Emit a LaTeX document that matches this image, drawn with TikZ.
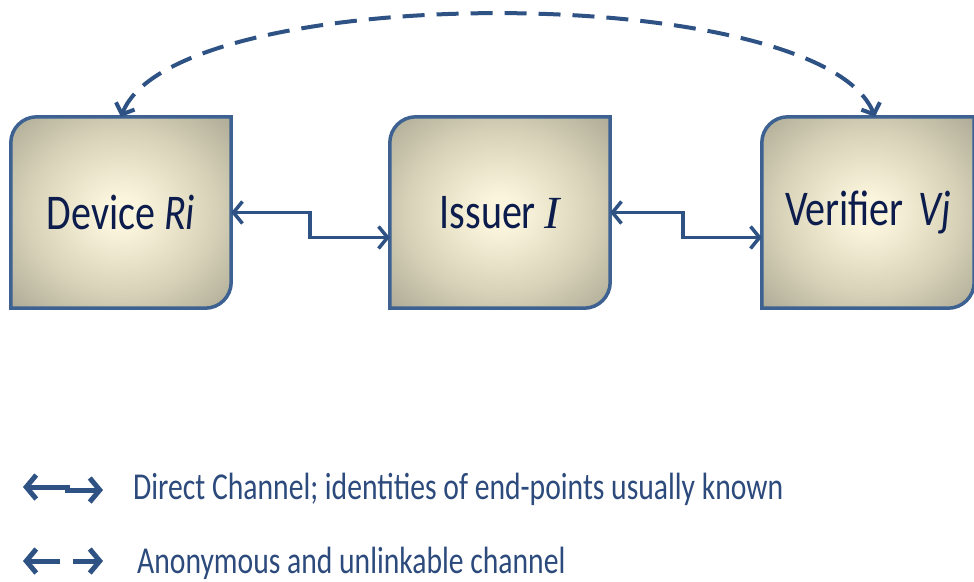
\documentclass[tikz,border=0pt]{standalone}
\usepackage{fontspec}
\setmainfont{Carlito}
\newfontfamily\boxfont[FakeStretch=0.80]{Carlito}
\newfontfamily\legfont[FakeStretch=0.78]{Carlito}
\newfontfamily\serifit{Liberation Serif}
\usetikzlibrary{arrows.meta}
\definecolor{creamc}{HTML}{FAF5DC}
\definecolor{midc}{HTML}{DAD5BA}
\definecolor{darkc}{HTML}{A6A390}
\definecolor{edgec}{HTML}{8C897A}
\definecolor{bordc}{HTML}{3D6190}
\definecolor{arrc}{HTML}{2E5284}
\definecolor{txtc}{HTML}{0C1C4C}
\definecolor{legc}{HTML}{2C4A7C}
\pgfdeclareradialshading{boxshade}{\pgfpoint{0bp}{0bp}}{color(0bp)=(creamc); color(4bp)=(creamc); color(20bp)=(midc); color(38bp)=(darkc); color(56bp)=(edgec); color(80bp)=(edgec)}
\pgfdeclarelayer{bg}
\pgfsetlayers{bg,main}
\newcommand{\entitybox}[1]{%
  \begin{pgfonlayer}{bg}
  \path[shade, shading=boxshade, draw=bordc, line width=3.5pt]
    (#1.south west) -- ([yshift=-26pt]#1.north west)
    arc[start angle=180, end angle=90, radius=26pt]
    -- (#1.north east) -- ([yshift=26pt]#1.south east)
    arc[start angle=0, end angle=-90, radius=26pt] -- cycle;
  \end{pgfonlayer}}
\tikzset{
  entity/.style={minimum height=191pt, inner sep=0pt, text=txtc,
    font=\boxfont\fontsize{50}{55}\selectfont},
  conn/.style={draw=arrc, line width=3.5pt,
    {Straight Barb[length=9pt,width=22pt]}-{Straight Barb[length=9pt,width=22pt]}},
  anon/.style={draw=arrc, line width=4pt, dash pattern=on 22pt off 12pt,
    {Straight Barb[length=9pt,width=20pt]}-{Straight Barb[length=9pt,width=20pt]}},
  legarrow/.style={draw=arrc, line width=5pt},
  legtext/.style={anchor=west, inner sep=0pt, text=legc,
    font=\legfont\fontsize{38}{42}\selectfont},
}
\begin{document}
\begin{tikzpicture}[x=1pt, y=-1pt]
\useasboundingbox (0,0) rectangle (974,581);
\node[entity, minimum width=220pt] (dev) at (121,212.5) {Device \textit{Ri}};
\node[entity, minimum width=220pt] (iss) at (500,212.5) {Issuer {\serifit\itshape\fontsize{46}{50}\selectfont I}};
\node[entity, minimum width=212pt] (ver) at (868,212.5) {Verifier\hspace{0.3em}\textit{Vj}};
\entitybox{dev}
\entitybox{iss}
\entitybox{ver}
\draw[conn] (dev.east) -- ++(79,0) |- ([yshift=-25pt]iss.west);
\draw[conn] (iss.east) -- ++(73,0) |- ([yshift=-25pt]ver.west);
\draw[anon] (dev.north) .. controls (175,-20) and (820,-20) .. ([xshift=7pt]ver.north);
% legend
\coordinate (l1a) at (23,487);
\coordinate (l1b) at (103,490);
\draw[legarrow, {Straight Barb[length=10pt,width=24pt]}-{Straight Barb[length=10pt,width=24pt]}]
  (l1a) -- (67,487) -- (67,490) -- (l1b);
\node[legtext] (leg1) at (133,489) {Direct Channel; identities of end-points usually known};
\coordinate (l2a) at (23,561);
\coordinate (l2b) at (60,561);
\coordinate (l2c) at (73,561);
\coordinate (l2d) at (103,561);
\draw[legarrow, -{Straight Barb[length=10pt,width=24pt]}] (l2b) -- (l2a);
\draw[legarrow, -{Straight Barb[length=10pt,width=24pt]}] (l2c) -- (l2d);
\node[legtext] (leg2) at (137,563) {Anonymous and unlinkable channel};
\end{tikzpicture}
\end{document}
